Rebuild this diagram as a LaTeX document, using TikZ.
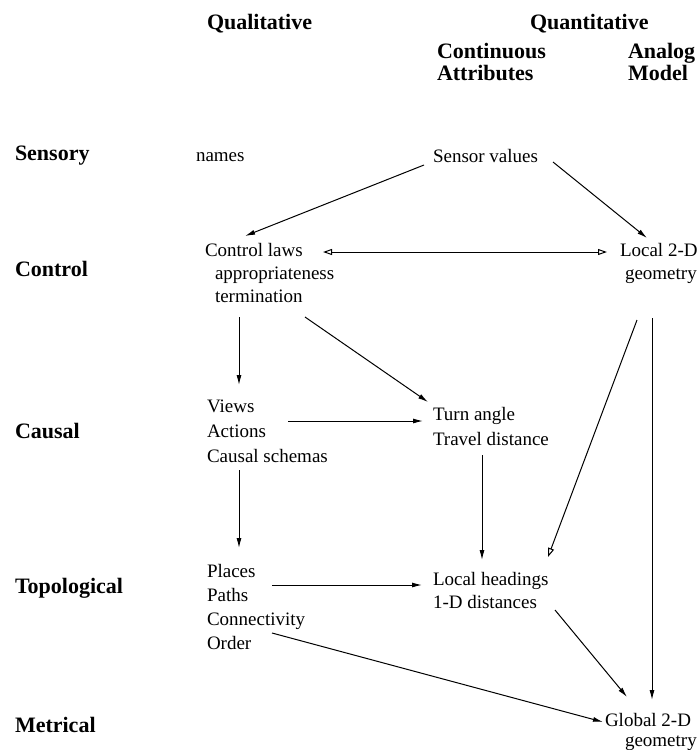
\documentclass[tikz,border=0pt]{standalone}
\usepackage{fontspec}
\setmainfont{Liberation Serif}
\usetikzlibrary{arrows.meta}
\begin{document}
\begin{tikzpicture}[x=1pt,y=-1pt,
  lbl/.style={anchor=base west,inner sep=0pt,outer sep=0pt,align=left,
    font=\fontsize{19}{24}\selectfont},
  hdr/.style={anchor=base west,inner sep=0pt,outer sep=0pt,align=left,
    font=\fontsize{22}{22}\selectfont\bfseries},
  arr/.style={line width=1pt,-{Latex[length=10pt,width=5pt]}},
  oarr/.style={line width=1pt,-{Triangle[open,length=9pt,width=6pt]}},
  darr/.style={line width=1pt,{Triangle[open,length=9pt,width=6pt]}-{Triangle[open,length=9pt,width=6pt]}}]
\useasboundingbox (0,0) rectangle (700,750);

% column headings (multi-line nodes sit on their last baseline)
\node[hdr] (hQual)  at (207,29) {Qualitative};
\node[hdr] (hQuant) at (530,29) {Quantitative};
\node[hdr] (hCont)  at (437,80) {Continuous\\Attributes};
\node[hdr] (hAna)   at (628,80) {Analog\\Model};

% row headings
\node[hdr] (lSens) at (15,160) {Sensory};
\node[hdr] (lCtl)  at (15,276) {Control};
\node[hdr] (lCaus) at (15,438) {Causal};
\node[hdr] (lTop)  at (15,593) {Topological};
\node[hdr] (lMet)  at (15,732) {Metrical};

% entries
\node[lbl] (names)  at (196,161) {names};
\node[lbl] (sv)     at (433,162) {Sensor values};
\node[lbl,font=\fontsize{19}{23}\selectfont] (ctl) at (205,302)
  {Control laws\\\hspace*{10pt}appropriateness\\\hspace*{10pt}termination};
\node[lbl,font=\fontsize{19}{23}\selectfont] (loc2) at (620,279)
  {Local 2-D\\\hspace*{5pt}geometry};
\node[lbl,font=\fontsize{19}{25}\selectfont] (views) at (207,462)
  {Views\\Actions\\Causal schemas};
\node[lbl,font=\fontsize{19}{25}\selectfont] (turn) at (433,445)
  {Turn angle\\Travel distance};
\node[lbl,font=\fontsize{19}{24}\selectfont] (places) at (207,649)
  {Places\\Paths\\Connectivity\\Order};
\node[lbl,font=\fontsize{19}{23}\selectfont] (lhead) at (433,608)
  {Local headings\\1-D distances};
\node[lbl,font=\fontsize{19}{20}\selectfont] (glob) at (605,746)
  {Global 2-D\\\hspace*{20pt}geometry};

% connectors
\draw[arr] ([shift={(-9,3)}]sv.base west) -- ([shift={(40,-66)}]ctl.base west);
\draw[arr] ([shift={(120,0)}]sv.base west) -- ([shift={(27,-41)}]loc2.base west);
\draw[darr] ([shift={(118,-50)}]ctl.base west) -- ([shift={(-13,-27)}]loc2.base west);
\draw[arr] ([shift={(34,15)}]ctl.base west) -- ([shift={(32,-77)}]views.base west);
\draw[arr] ([shift={(100,15)}]ctl.base west) -- ([shift={(-5,-43)}]turn.base west);
\draw[arr] ([shift={(81,-41)}]views.base west) -- ([shift={(-10,-24)}]turn.base west);
\draw[arr] ([shift={(32,8)}]views.base west) -- ([shift={(32,-101)}]places.base west);
\draw[arr] ([shift={(49,10)}]turn.base west) -- ([shift={(49,-48)}]lhead.base west);
\draw[oarr] ([shift={(17,41)}]loc2.base west) -- ([shift={(115,-51)}]lhead.base west);
\draw[arr] ([shift={(32,39)}]loc2.base west) -- ([shift={(47,-46)}]glob.base west);
\draw[arr] ([shift={(65,-64)}]places.base west) -- ([shift={(-11,-23)}]lhead.base west);
\draw[arr] ([shift={(122,2)}]lhead.base west) -- ([shift={(22,-49)}]glob.base west);
\draw[arr] ([shift={(65,-16)}]places.base west) -- ([shift={(-2,-24)}]glob.base west);
\end{tikzpicture}
\end{document}
